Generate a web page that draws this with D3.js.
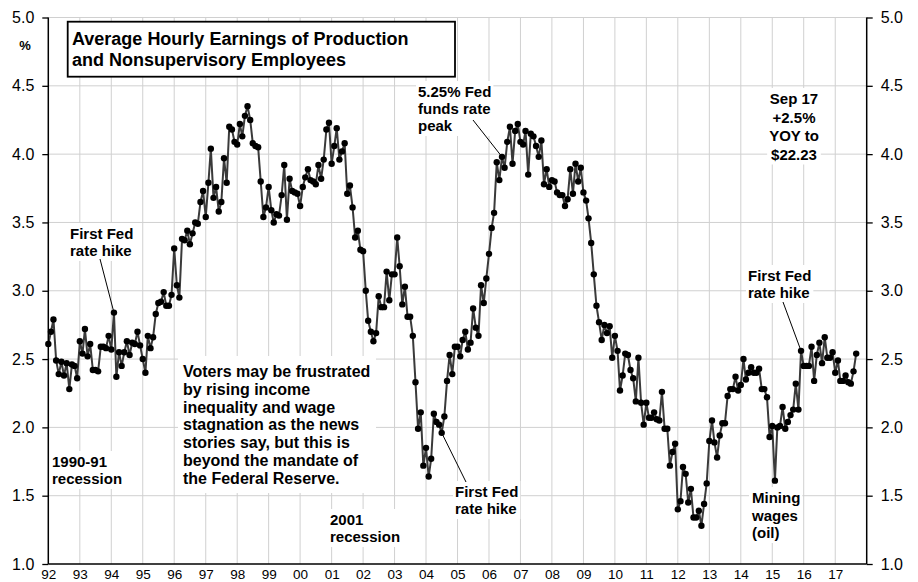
<!DOCTYPE html>
<html>
<head>
<meta charset="utf-8">
<script src="https://cdnjs.cloudflare.com/ajax/libs/d3/7.8.5/d3.min.js"></script>
<style>
  html, body { margin: 0; padding: 0; background: #fff; }
  svg { display: block; font-family: "Liberation Sans", Arial, Helvetica, sans-serif; }
</style>
</head>
<body>
<svg id="chart" width="918" height="582"></svg>
<script>
// ---------------- DATA ----------------
// Average hourly earnings of production & nonsupervisory employees, yoy % change, monthly from Jan 1992
const startYear = 1992;
const yoyPct = [
  // 1992
  2.61, 2.70, 2.79, 2.49, 2.39, 2.48, 2.38, 2.47, 2.28, 2.46, 2.45, 2.36,
  // 1993
  2.63, 2.54, 2.72, 2.52, 2.61, 2.42, 2.42, 2.41, 2.59, 2.59, 2.58, 2.67,
  // 1994
  2.57, 2.84, 2.37, 2.55, 2.45, 2.55, 2.63, 2.53, 2.62, 2.61, 2.70, 2.60,
  // 1995
  2.50, 2.40, 2.67, 2.58, 2.66, 2.83, 2.91, 2.92, 2.99, 2.89, 2.89, 2.97,
  // 1996
  3.31, 3.04, 2.95, 3.38, 3.37, 3.44, 3.34, 3.42, 3.50, 3.49, 3.65, 3.73,
  // 1997
  3.54, 3.79, 4.04, 3.68, 3.76, 3.58, 3.65, 3.97, 3.79, 4.20, 4.18, 4.09,
  // 1998
  4.07, 4.22, 4.13, 4.28, 4.35, 4.25, 4.08, 4.06, 4.05, 3.80, 3.54, 3.61,
  // 1999
  3.76, 3.59, 3.50, 3.56, 3.55, 3.70, 3.92, 3.52, 3.82, 3.73, 3.72, 3.71,
  // 2000
  3.62, 3.76, 3.83, 3.89, 3.81, 3.80, 3.78, 3.92, 3.82, 3.96, 4.18, 4.23,
  // 2001
  3.93, 4.06, 4.19, 3.96, 4.02, 4.08, 3.71, 3.77, 3.61, 3.39, 3.44, 3.30,
  // 2002
  3.29, 3.00, 2.78, 2.70, 2.63, 2.69, 2.96, 2.88, 2.88, 3.14, 2.93, 3.12,
  // 2003
  3.12, 3.39, 3.18, 2.90, 3.03, 2.81, 2.81, 2.67, 2.33, 1.99, 2.11, 1.72,
  // 2004
  1.85, 1.64, 1.77, 2.10, 2.04, 2.02, 1.96, 2.08, 2.34, 2.53, 2.39, 2.59,
  // 2005
  2.59, 2.52, 2.64, 2.70, 2.57, 2.62, 2.87, 2.73, 2.67, 3.04, 2.91, 3.09,
  // 2006
  3.27, 3.46, 3.57, 3.94, 3.81, 3.98, 3.90, 4.09, 4.20, 3.93, 4.17, 4.22,
  // 2007
  4.09, 4.07, 4.17, 3.85, 4.15, 4.13, 4.06, 3.98, 4.10, 3.78, 3.89, 3.76,
  // 2008
  3.81, 3.80, 3.72, 3.70, 3.70, 3.62, 3.67, 3.89, 3.71, 3.93, 3.80, 3.90,
  // 2009
  3.72, 3.66, 3.53, 3.35, 3.12, 2.89, 2.77, 2.64, 2.75, 2.69, 2.74, 2.51,
  // 2010
  2.67, 2.56, 2.27, 2.38, 2.54, 2.53, 2.42, 2.36, 2.19, 2.51, 2.18, 2.02,
  // 2011
  2.18, 2.07, 2.07, 2.11, 2.06, 2.05, 2.26, 1.99, 1.99, 1.72, 1.82, 1.88,
  // 2012
  1.40, 1.46, 1.71, 1.66, 1.45, 1.55, 1.34, 1.34, 1.39, 1.28, 1.44, 1.59,
  // 2013
  1.90, 2.05, 1.89, 1.78, 1.94, 2.03, 2.03, 2.23, 2.28, 2.28, 2.37, 2.27,
  // 2014
  2.31, 2.50, 2.35, 2.40, 2.44, 2.40, 2.40, 2.43, 2.28, 2.28, 2.22, 1.93,
  // 2015
  2.01, 1.61, 2.00, 2.01, 2.15, 1.99, 2.04, 2.09, 2.13, 2.32, 2.13, 2.56,
  // 2016
  2.45, 2.45, 2.45, 2.59, 2.34, 2.53, 2.62, 2.47, 2.66, 2.51, 2.51, 2.55,
  // 2017
  2.40, 2.49, 2.34, 2.34, 2.38, 2.33, 2.32, 2.41, 2.54
];
const yTicks = [1.0, 1.5, 2.0, 2.5, 3.0, 3.5, 4.0, 4.5, 5.0];
const yearTicks = d3.range(1992, 2018);          // labelled years 92 … 17
const titleLines = ["Average Hourly Earnings of Production", "and Nonsupervisory Employees"];

// ---------------- LAYOUT ----------------
const svg = d3.select("#chart");
const plot = { left: 48.3, right: 866.7, top: 17.5, bottom: 564 };
const FONT = '"Liberation Sans", Arial, Helvetica, sans-serif';

const x = d3.scaleTime()
  .domain([new Date(1992, 0, 1), new Date(2018, 0, 1)])
  .range([plot.left, plot.right]);
const y = d3.scaleLinear().domain([1, 5]).range([plot.bottom, plot.top]);

const series = yoyPct.map((v, i) => ({ date: new Date(startYear, i, 1), v }));

// ---------------- GRID ----------------
const grid = svg.append("g").attr("class", "grid");
grid.selectAll("line.h").data(yTicks.filter(d => d > 1)).join("line")
  .attr("x1", plot.left).attr("x2", plot.right)
  .attr("y1", d => y(d)).attr("y2", d => y(d))
  .attr("stroke", "#d0d0d0").attr("stroke-width", 1);
grid.selectAll("line.v").data(yearTicks.filter(d => d > 1992)).join("line")
  .attr("x1", d => x(new Date(d, 0, 1))).attr("x2", d => x(new Date(d, 0, 1)))
  .attr("y1", plot.top).attr("y2", plot.bottom)
  .attr("stroke", "#d0d0d0").attr("stroke-width", 1);

// layers
const bgLayer = svg.append("g");
const lineLayer = svg.append("g");
const textLayer = svg.append("g");

// ---------------- AXES ----------------
const fmt = d3.format(".1f");
const leftAxis = svg.append("g").attr("transform", `translate(${plot.left},0)`)
  .call(d3.axisLeft(y).tickValues(yTicks).tickFormat(fmt).tickSize(6).tickPadding(8));
const rightAxis = svg.append("g").attr("transform", `translate(${plot.right},0)`)
  .call(d3.axisRight(y).tickValues(yTicks).tickFormat(fmt).tickSize(6).tickPadding(8));
const bottomAxis = svg.append("g").attr("transform", `translate(0,${plot.bottom})`)
  .call(d3.axisBottom(x).tickValues(yearTicks.map(d => new Date(d, 0, 1)))
    .tickFormat(d3.timeFormat("%y")).tickSize(0).tickPadding(5.5));

[leftAxis, rightAxis].forEach(g => {
  g.select(".domain").attr("stroke", "#000").attr("stroke-width", 1.5);
  g.selectAll(".tick line").attr("stroke", "#000").attr("stroke-width", 1.3);
  g.selectAll(".tick text").attr("font-family", FONT).attr("font-size", 16).attr("fill", "#000");
});
bottomAxis.select(".domain").attr("stroke", "#000").attr("stroke-width", 1.5);
bottomAxis.selectAll(".tick text").attr("font-family", FONT).attr("font-size", 13.5).attr("fill", "#000");
bottomAxis.select(".domain").attr("d", `M${plot.left},0H${plot.right}`);
leftAxis.select(".domain").attr("d", `M0,${plot.top}V${plot.bottom}`);
rightAxis.select(".domain").attr("d", `M0,${plot.top}V${plot.bottom}`);

svg.append("text").attr("x", 25).attr("y", 50).attr("text-anchor", "middle")
  .attr("font-family", FONT).attr("font-size", 13).attr("font-weight", "bold").text("%");

// ---------------- TITLE BOX ----------------
svg.append("rect").attr("x", 67.7).attr("y", 21.7).attr("width", 387.3).attr("height", 55)
  .attr("fill", "#fff").attr("stroke", "#000").attr("stroke-width", 1.8);
svg.append("text").attr("font-family", FONT).attr("font-size", 18).attr("font-weight", "bold")
  .selectAll("tspan").data(titleLines).join("tspan")
  .attr("x", 72).attr("y", (d, i) => 45 + i * 20.5).text(d => d);

// ---------------- ANNOTATIONS ----------------
function note(lines, px, py, opts = {}) {
  const size = opts.size || 15, lh = opts.lh || 17, anchor = opts.anchor || "start";
  const t = textLayer.append("text").attr("font-family", FONT).attr("font-size", size)
    .attr("font-weight", "bold").attr("text-anchor", anchor);
  t.selectAll("tspan").data(lines).join("tspan")
    .attr("x", px).attr("y", (d, i) => py + i * lh).text(d => d);
  const bb = t.node().getBBox();
  const pad = opts.pad || 2;
  const r = opts.box || { x: bb.x - pad, y: bb.y - pad, w: bb.width + 2 * pad, h: bb.height + 2 * pad };
  bgLayer.append("rect").attr("x", r.x).attr("y", r.y).attr("width", r.w).attr("height", r.h).attr("fill", "#fff");
  return t;
}

note(["First Fed", "rate hike"], 70, 239);
note(["1990-91", "recession"], 52, 467);
note(["Voters may be frustrated", "by rising income", "inequality and wage", "stagnation as the news",
      "stories say, but this is", "beyond the mandate of", "the Federal Reserve."], 183, 377,
     { size: 16, lh: 17.8, box: { x: 178, y: 356, w: 198, h: 137 } });
note(["2001", "recession"], 330, 525);
note(["First Fed", "rate hike"], 455, 497);
note(["5.25% Fed", "funds rate", "peak"], 418, 97);
note(["Sep 17", "+2.5%", "YOY to", "$22.23"], 794, 104, { anchor: "middle", lh: 18.5 });
note(["First Fed", "rate hike"], 748, 281);
note(["Mining", "wages", "(oil)"], 752, 503, { lh: 17.5 });

// leader lines: text -> data point
function leader(x1, y1, idx) {
  const d = series[idx];
  lineLayer.append("line").attr("x1", x1).attr("y1", y1)
    .attr("x2", x(d.date)).attr("y2", y(d.v))
    .attr("stroke", "#000").attr("stroke-width", 1);
}
leader(100, 259, 25);   // Feb 1994
leader(466, 482, 150);  // mid 2004
leader(473, 120, 173);  // Jun 2006
leader(783, 302, 287);  // Dec 2015

// ---------------- SERIES ----------------
const line = d3.line().x(d => x(d.date)).y(d => y(d.v));
lineLayer.append("path").datum(series).attr("d", line)
  .attr("fill", "none").attr("stroke", "#3a3a3a").attr("stroke-width", 2).attr("stroke-linejoin", "round");
lineLayer.selectAll("circle").data(series).join("circle")
  .attr("cx", d => x(d.date)).attr("cy", d => y(d.v)).attr("r", 3.2).attr("fill", "#000");
</script>
</body>
</html>
